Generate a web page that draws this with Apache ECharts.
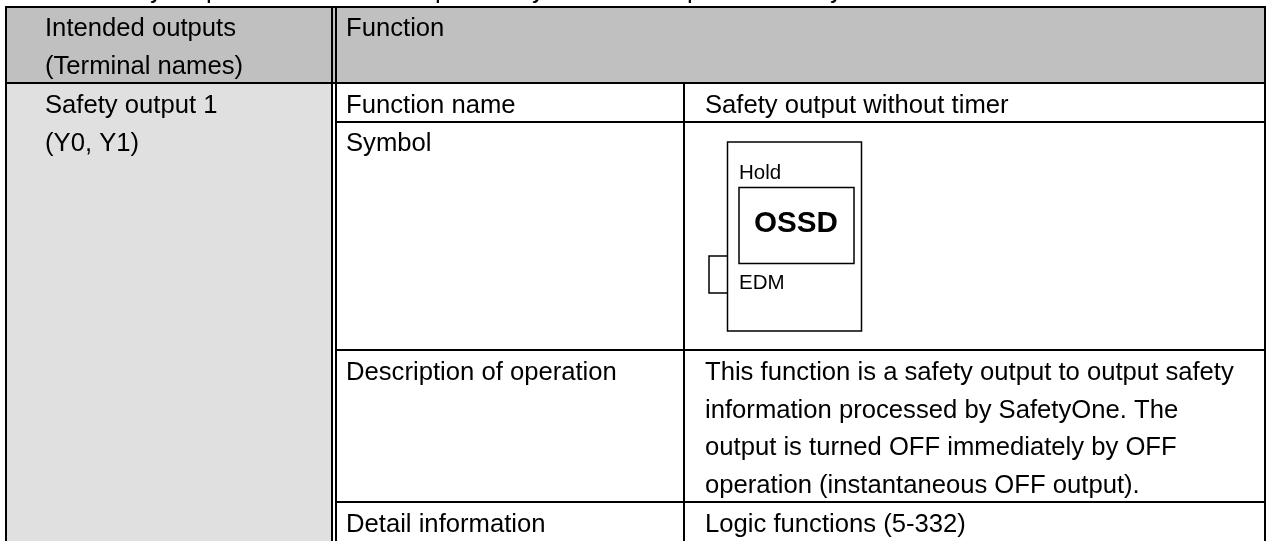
<!DOCTYPE html>
<html><head><meta charset="utf-8">
<style>html,body{margin:0;padding:0;background:#fff}#c{width:1270px;height:541px}</style>
<script src="https://cdn.jsdelivr.net/npm/echarts@6/dist/echarts.min.js"></script></head>
<body><div id="c"></div>
<script>
const headerLeft = ['Intended outputs', '(Terminal names)'];
const headerRight = ['Function'];
const outputLabel = ['Safety output 1', '(Y0, Y1)'];
const rowLabels = ['Function name', 'Symbol', 'Description of operation', 'Detail information'];
const functionName = ['Safety output without timer'];
const description = ['This function is a safety output to output safety',
  'information processed by SafetyOne. The',
  'output is turned OFF immediately by OFF',
  'operation (instantaneous OFF output).'];
const detail = ['Logic functions (5-332)'];
const symbolTexts = ['Hold', 'OSSD', 'EDM'];
const croppedLine = ['y', 'p', 'p', 'y', 'p', 'y'];
const croppedLineX = [150, 206, 435, 532, 687, 830];

const FONT = '"Liberation Sans", Arial, sans-serif';
const g = [];
const rect = (x, y, w, h, fill) => g.push({type:'rect', shape:{x, y, width:w, height:h}, style:{fill}, silent:true});
const box = (x, y, w, h, lw) => g.push({type:'rect', shape:{x, y, width:w, height:h}, style:{fill:'none', stroke:'#000', lineWidth:lw}, silent:true});
const line = (x1, y1, x2, y2, lw) => g.push({type:'line', shape:{x1, y1, x2, y2}, style:{stroke:'#000', lineWidth:lw}, silent:true});
const text = (t, x, y, size, weight) => g.push({type:'text', x, y, style:{text:t, fill:'#000', font:(weight||'normal')+' '+size+'px '+FONT, verticalAlign:'middle', align:'left'}, silent:true});

rect(6, 7, 1259, 76, '#c0c0c0');
rect(6, 83, 326, 458, '#e0e0e0');

line(5, 7, 1266, 7, 2);
line(6, 83, 1265, 83, 2);
line(336, 122, 1265, 122, 2);
line(336, 350, 1265, 350, 2);
line(336, 502, 1265, 502, 2);
line(6, 6, 6, 541, 2);
line(1265, 6, 1265, 541, 2);
line(332, 6, 332, 541, 2);
line(336, 6, 336, 541, 2);
line(684, 83, 684, 541, 2);

const col1 = 45, col2 = 346, col3 = 705, fs = 25.65;
croppedLine.forEach((t,i) => text(t, croppedLineX[i], -9, fs));
headerLeft.forEach((t,i) => text(t, col1, 29 + i*38, fs));
headerRight.forEach((t) => text(t, col2, 29, fs));
outputLabel.forEach((t,i) => text(t, col1, 106 + i*38, fs));
[106, 144, 373, 524.5].forEach((y,i) => text(rowLabels[i], col2, y, fs));
text(functionName[0], col3, 106, fs);
description.forEach((t,i) => text(t, col3, 373 + i*37.5, fs));
text(detail[0], col3, 524.5, fs);

box(727.5, 142, 134, 189, 1.5);
box(739, 187.5, 115, 76, 1.5);
g.push({type:'polyline', shape:{points:[[727.5,256],[709,256],[709,293],[727.5,293]]}, style:{fill:'none', stroke:'#000', lineWidth:1.5}, silent:true});
text(symbolTexts[0], 739, 173, 20.5);
text(symbolTexts[1], 754, 224, 29.6, 'bold');
text(symbolTexts[2], 739, 283, 20.5);

const chart = echarts.init(document.getElementById('c'), null, {renderer:'canvas'});
chart.setOption({animation:false, backgroundColor:'#fff', graphic:{elements:g}});
</script></body></html>
